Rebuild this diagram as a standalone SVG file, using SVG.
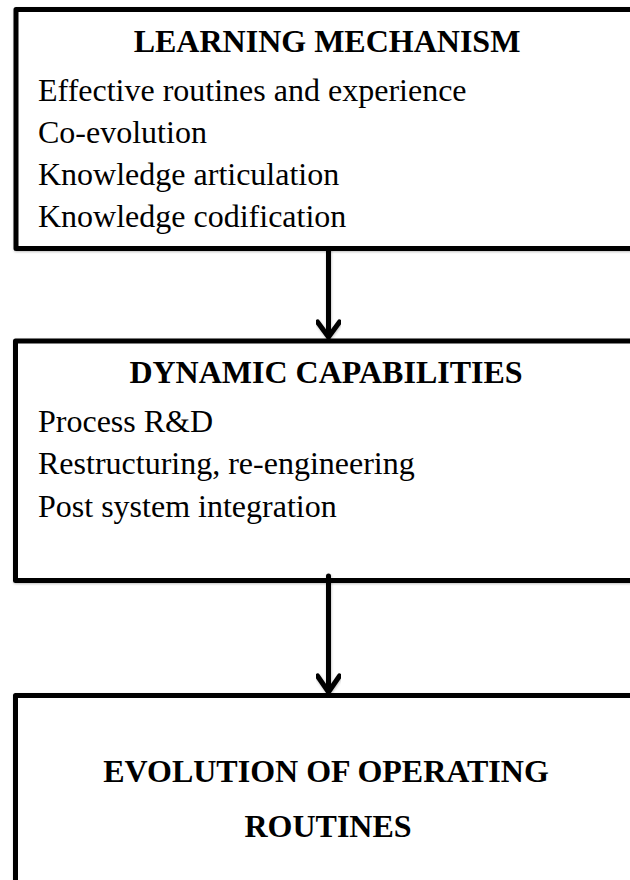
<svg xmlns="http://www.w3.org/2000/svg" width="630" height="880" viewBox="0 0 630 880">
<defs>
<style>
.box{fill:#fff;stroke:#000;stroke-width:5;stroke-linejoin:round}
.t{font-family:"Liberation Serif","Times New Roman",serif;font-size:32px;fill:#000}
.b{font-weight:bold;text-anchor:middle}
.conn{fill:none;stroke:#000;stroke-width:5;stroke-linecap:round;stroke-linejoin:round}
</style>
<filter id="sh" x="-5%" y="-5%" width="110%" height="110%">
<feDropShadow dx="0.5" dy="1" stdDeviation="1.2" flood-color="#000" flood-opacity="0.25"/>
</filter>
</defs>
<rect width="630" height="880" fill="#fff"/>
<g id="learning-mechanism">
<rect class="box" x="16" y="9.5" width="640" height="239" filter="url(#sh)"/>
<text class="t b" x="327" y="52">LEARNING MECHANISM</text>
<text class="t" x="38" y="101">Effective routines and experience</text>
<text class="t" x="38" y="143">Co-evolution</text>
<text class="t" x="38" y="185">Knowledge articulation</text>
<text class="t" x="38" y="227">Knowledge codification</text>
</g>
<g id="dynamic-capabilities">
<rect class="box" x="15.5" y="341" width="640" height="239.5" filter="url(#sh)"/>
<text class="t b" x="326" y="383">DYNAMIC CAPABILITIES</text>
<text class="t" x="38" y="432">Process R&amp;D</text>
<text class="t" x="38" y="474">Restructuring, re-engineering</text>
<text class="t" x="38" y="517">Post system integration</text>
</g>
<g id="evolution-of-operating-routines">
<rect class="box" x="15.5" y="695.5" width="640" height="240" filter="url(#sh)"/>
<text class="t b" x="326" y="782">EVOLUTION OF OPERATING</text>
<text class="t b" x="328" y="837">ROUTINES</text>
</g>
<g id="connectors" filter="url(#sh)">
<path class="conn" d="M328.5 249 V337 M317.5 322 L328.5 337 L339.5 322"/>
<path class="conn" d="M328.5 576 V692 M317.5 676 L328.5 692 L339.5 676"/>
</g>
</svg>
